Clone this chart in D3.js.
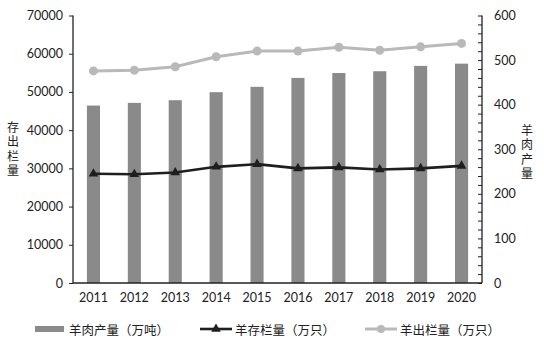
<!DOCTYPE html>
<html><head><meta charset="utf-8">
<script src="https://cdn.jsdelivr.net/npm/d3@7"></script>
<style>body{margin:0;background:#fff}svg{display:block}</style>
</head><body><svg id="c" width="544" height="349"></svg>
<script>
const years = ["2011","2012","2013","2014","2015","2016","2017","2018","2019","2020"];
const meatOutput = [398, 404, 410, 428, 440, 460, 471, 475, 487, 492];           // 羊肉产量（万吨）
const sheepStock = [28600, 28450, 28900, 30400, 31100, 30000, 30250, 29700, 30000, 30650]; // 羊存栏量（万只）
const sheepSlaughter = [55500, 55700, 56600, 59200, 60700, 60700, 61700, 60900, 61800, 62700]; // 羊出栏量（万只）
const leftTicks = [0,10000,20000,30000,40000,50000,60000,70000];
const rightTicks = [0,100,200,300,400,500,600];
const legendLabels = ["羊肉产量（万吨）","羊存栏量（万只）","羊出栏量（万只）"];

const svg = d3.select("#c");
const L = 73, R = 482, T = 15.5, B = 283;
const font = "Lato, 'Open Sans', sans-serif";
const x = d3.scaleBand().domain(years).range([L, R]).paddingInner(0.68).paddingOuter(0.34);
const yL = d3.scaleLinear().domain([0,70000]).range([B, T]);
const yR = d3.scaleLinear().domain([0,600]).range([B, T]);
const cx = d => x(d) + x.bandwidth()/2;

// bars
svg.append("g").selectAll("rect").data(years).join("rect")
  .attr("x", d => x(d)).attr("width", x.bandwidth())
  .attr("y", (d,i) => yR(meatOutput[i])).attr("height", (d,i) => B - yR(meatOutput[i]))
  .attr("fill", "#8a8a8a");

// left axis
const gl = svg.append("g").attr("transform", `translate(${L},0)`)
  .call(d3.axisLeft(yL).tickValues(leftTicks).tickSize(4).tickPadding(6).tickFormat(d3.format("d")));
// right axis
const minor = d3.range(0, 601, 20);
const gr = svg.append("g").attr("transform", `translate(${R},0)`)
  .call(d3.axisRight(yR).tickValues(minor).tickSize(-4).tickPadding(12)
    .tickFormat(d => rightTicks.includes(d) ? d : ""));
// bottom axis
const gb = svg.append("g").attr("transform", `translate(0,${B})`)
  .call(d3.axisBottom(x).tickSize(0).tickPadding(10));
[gl, gr, gb].forEach(g => {
  g.select(".domain").attr("stroke", "#222").attr("stroke-width", 1.3);
  g.selectAll(".tick line").attr("stroke", "#222");
  g.selectAll("text").attr("fill", "#222").style("font-family", font).style("font-size", "12.5px");
});
gl.select(".domain").attr("d", `M-0,${T}V${B}`);
gr.select(".domain").attr("d", `M0,${T}V${B}`);
gb.select(".domain").attr("d", `M${L},0H${R}`);

// lines
const lineFn = d3.line().x((d,i) => cx(years[i])).y(d => yL(d));
svg.append("path").datum(sheepSlaughter).attr("d", lineFn)
  .attr("fill","none").attr("stroke","#b9b9b9").attr("stroke-width",3);
svg.append("g").selectAll("circle").data(sheepSlaughter).join("circle")
  .attr("cx",(d,i)=>cx(years[i])).attr("cy",d=>yL(d)).attr("r",4.5).attr("fill","#b9b9b9");
svg.append("path").datum(sheepStock).attr("d", lineFn)
  .attr("fill","none").attr("stroke","#1e1e1e").attr("stroke-width",2.6);
const tri = d3.symbol().type(d3.symbolTriangle).size(40);
svg.append("g").selectAll("path").data(sheepStock).join("path")
  .attr("d", tri).attr("transform",(d,i)=>`translate(${cx(years[i])},${yL(d)})`).attr("fill","#1e1e1e");

// axis titles (vertical, upright characters)
function vtitle(txt, xc, y0){
  svg.append("text").attr("x", xc).attr("y", y0)
    .style("writing-mode","vertical-rl").style("text-orientation","upright")
    .style("letter-spacing","2.5px")
    .style("font-family","'Noto Sans CJK SC', sans-serif").style("font-size","12px").attr("fill","#222")
    .text(txt);
}
vtitle("存出栏量", 13, 121);
vtitle("羊肉产量", 527, 124);

// legend
const ly = 329;
const lg = svg.append("g");
const lx = [35, 200, 365];
lg.append("rect").attr("x", lx[0]).attr("y", ly-3).attr("width", 29).attr("height", 6).attr("fill","#8a8a8a");
lg.append("line").attr("x1", lx[1]).attr("x2", lx[1]+32).attr("y1", ly).attr("y2", ly).attr("stroke","#1e1e1e").attr("stroke-width",2.6);
lg.append("path").attr("d", tri).attr("transform",`translate(${lx[1]+16},${ly})`).attr("fill","#1e1e1e");
lg.append("line").attr("x1", lx[2]).attr("x2", lx[2]+32).attr("y1", ly).attr("y2", ly).attr("stroke","#b9b9b9").attr("stroke-width",3);
lg.append("circle").attr("cx", lx[2]+16).attr("cy", ly).attr("r",4).attr("fill","#b9b9b9");
lg.selectAll("text").data(legendLabels).join("text")
  .attr("x",(d,i)=> lx[i] + (i===0 ? 34 : 35)).attr("y", ly).attr("dominant-baseline","central")
  .style("font-family","'Noto Sans CJK SC', sans-serif").style("font-size","12.5px").attr("fill","#222")
  .text(d=>d);
</script></body></html>
